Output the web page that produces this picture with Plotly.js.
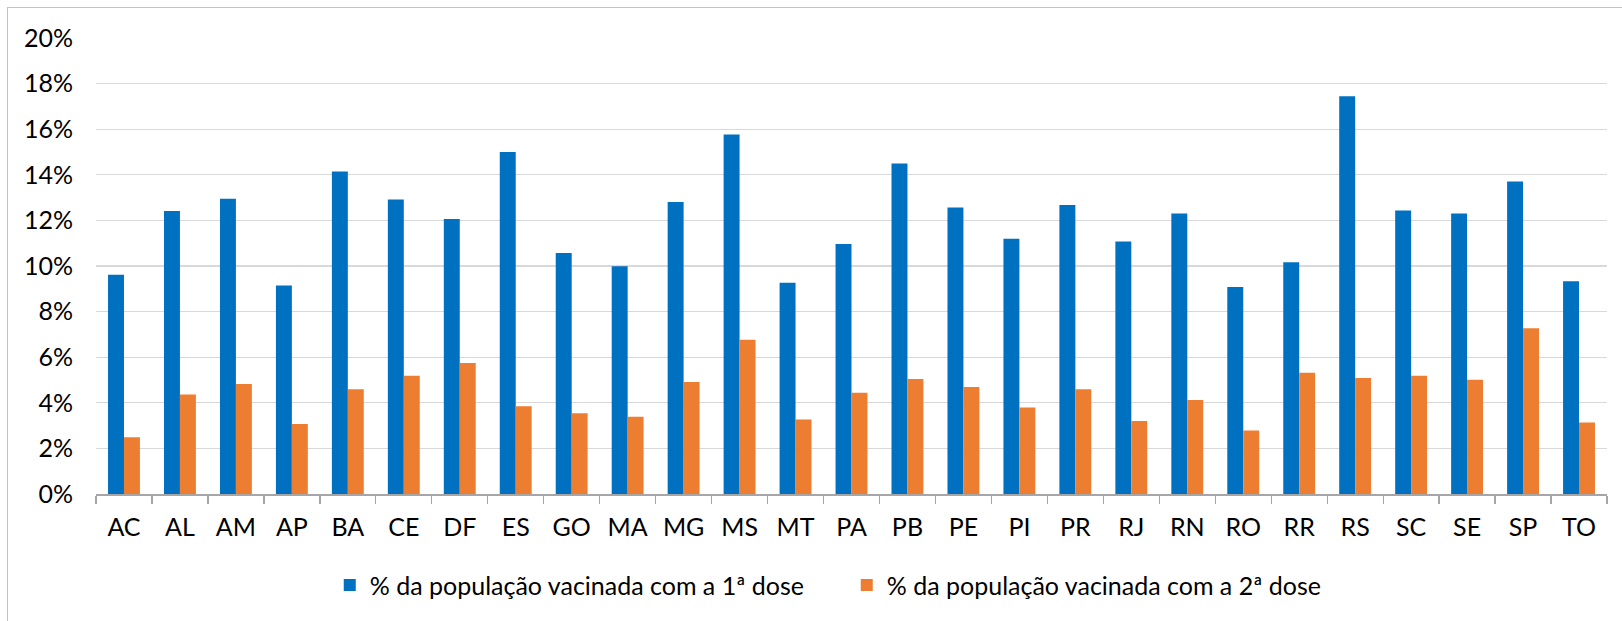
<!DOCTYPE html>
<html>
<head>
<meta charset="utf-8">
<script src="https://cdn.plot.ly/plotly-3.0.1.min.js"></script>
<style>
  html, body { margin: 0; padding: 0; background: #fff; overflow: hidden; }
  #wrap { position: relative; width: 1622px; height: 621px; }
  #chart { position: absolute; left: 0; top: 0; width: 1622px; height: 621px; }
  #frame { position: absolute; left: 7px; top: 7px; width: 3000px; height: 3000px;
           border-left: 1.5px solid #c3c3c3; border-top: 1.5px solid #c3c3c3; pointer-events: none; }
</style>
</head>
<body>
<div id="wrap">
  <div id="chart"></div>
  <div id="frame"></div>
</div>
<script>
const states = ["AC","AL","AM","AP","BA","CE","DF","ES","GO","MA","MG","MS","MT","PA","PB","PE","PI","PR","RJ","RN","RO","RR","RS","SC","SE","SP","TO"];
const dose1 = [0.0962,0.1241,0.1295,0.0914,0.1414,0.1292,0.1206,0.1500,0.1057,0.0999,0.1281,0.1577,0.0927,0.1096,0.1450,0.1257,0.1120,0.1268,0.1107,0.1230,0.0908,0.1016,0.1744,0.1243,0.1230,0.1371,0.0933];
const dose2 = [0.0249,0.0436,0.0482,0.0307,0.0459,0.0519,0.0575,0.0385,0.0354,0.0339,0.0491,0.0677,0.0327,0.0444,0.0504,0.0469,0.0379,0.0459,0.0320,0.0412,0.0278,0.0532,0.0509,0.0519,0.0501,0.0727,0.0314];
const name1 = "% da população vacinada com a 1ª dose";
const name2 = "% da população vacinada com a 2ª dose";

const FONT = "Lato, 'Open Sans', sans-serif";
const FS = 25;

const data = [
  { type: "bar", x: states, y: dose1, name: name1, marker: { color: "#0070C0" }, hoverinfo: "x+y" },
  { type: "bar", x: states, y: dose2, name: name2, marker: { color: "#ED7D31" }, hoverinfo: "x+y" }
];

const layout = {
  width: 1622, height: 621,
  margin: { l: 96, r: 15, t: 38, b: 127, pad: 0, autoexpand: false },
  paper_bgcolor: "#ffffff", plot_bgcolor: "#ffffff",
  font: { family: FONT, size: FS, color: "#000000" },
  barmode: "group", bargap: 0.43, bargroupgap: 0,
  showlegend: true,
  legend: {
    orientation: "h", x: 0.1547, xanchor: "left", y: -0.2, yanchor: "middle",
    font: { family: FONT, size: FS, color: "#000000" },
    entrywidth: 472, entrywidthmode: "pixels",
    bgcolor: "rgba(0,0,0,0)"
  },
  xaxis: {
    type: "category", tickson: "boundaries", ticks: "outside", ticklen: 8,
    tickcolor: "#a6a6a6", tickwidth: 1.3,
    showline: true, linecolor: "#a6a6a6", linewidth: 1.5,
    showgrid: false, zeroline: false, ticklabelstandoff: 10,
    tickfont: { family: FONT, size: FS, color: "#000000" }
  },
  yaxis: {
    range: [0, 0.2], dtick: 0.02, tick0: 0, tickformat: ".0%",
    showgrid: true, gridcolor: "#d9d9d9", gridwidth: 1.3,
    zeroline: false, showline: false, ticks: "", ticklabelstandoff: 22,
    tickfont: { family: FONT, size: FS, color: "#000000" }
  }
};

Plotly.newPlot("chart", data, layout, { displayModeBar: false, staticPlot: true });
</script>
</body>
</html>
